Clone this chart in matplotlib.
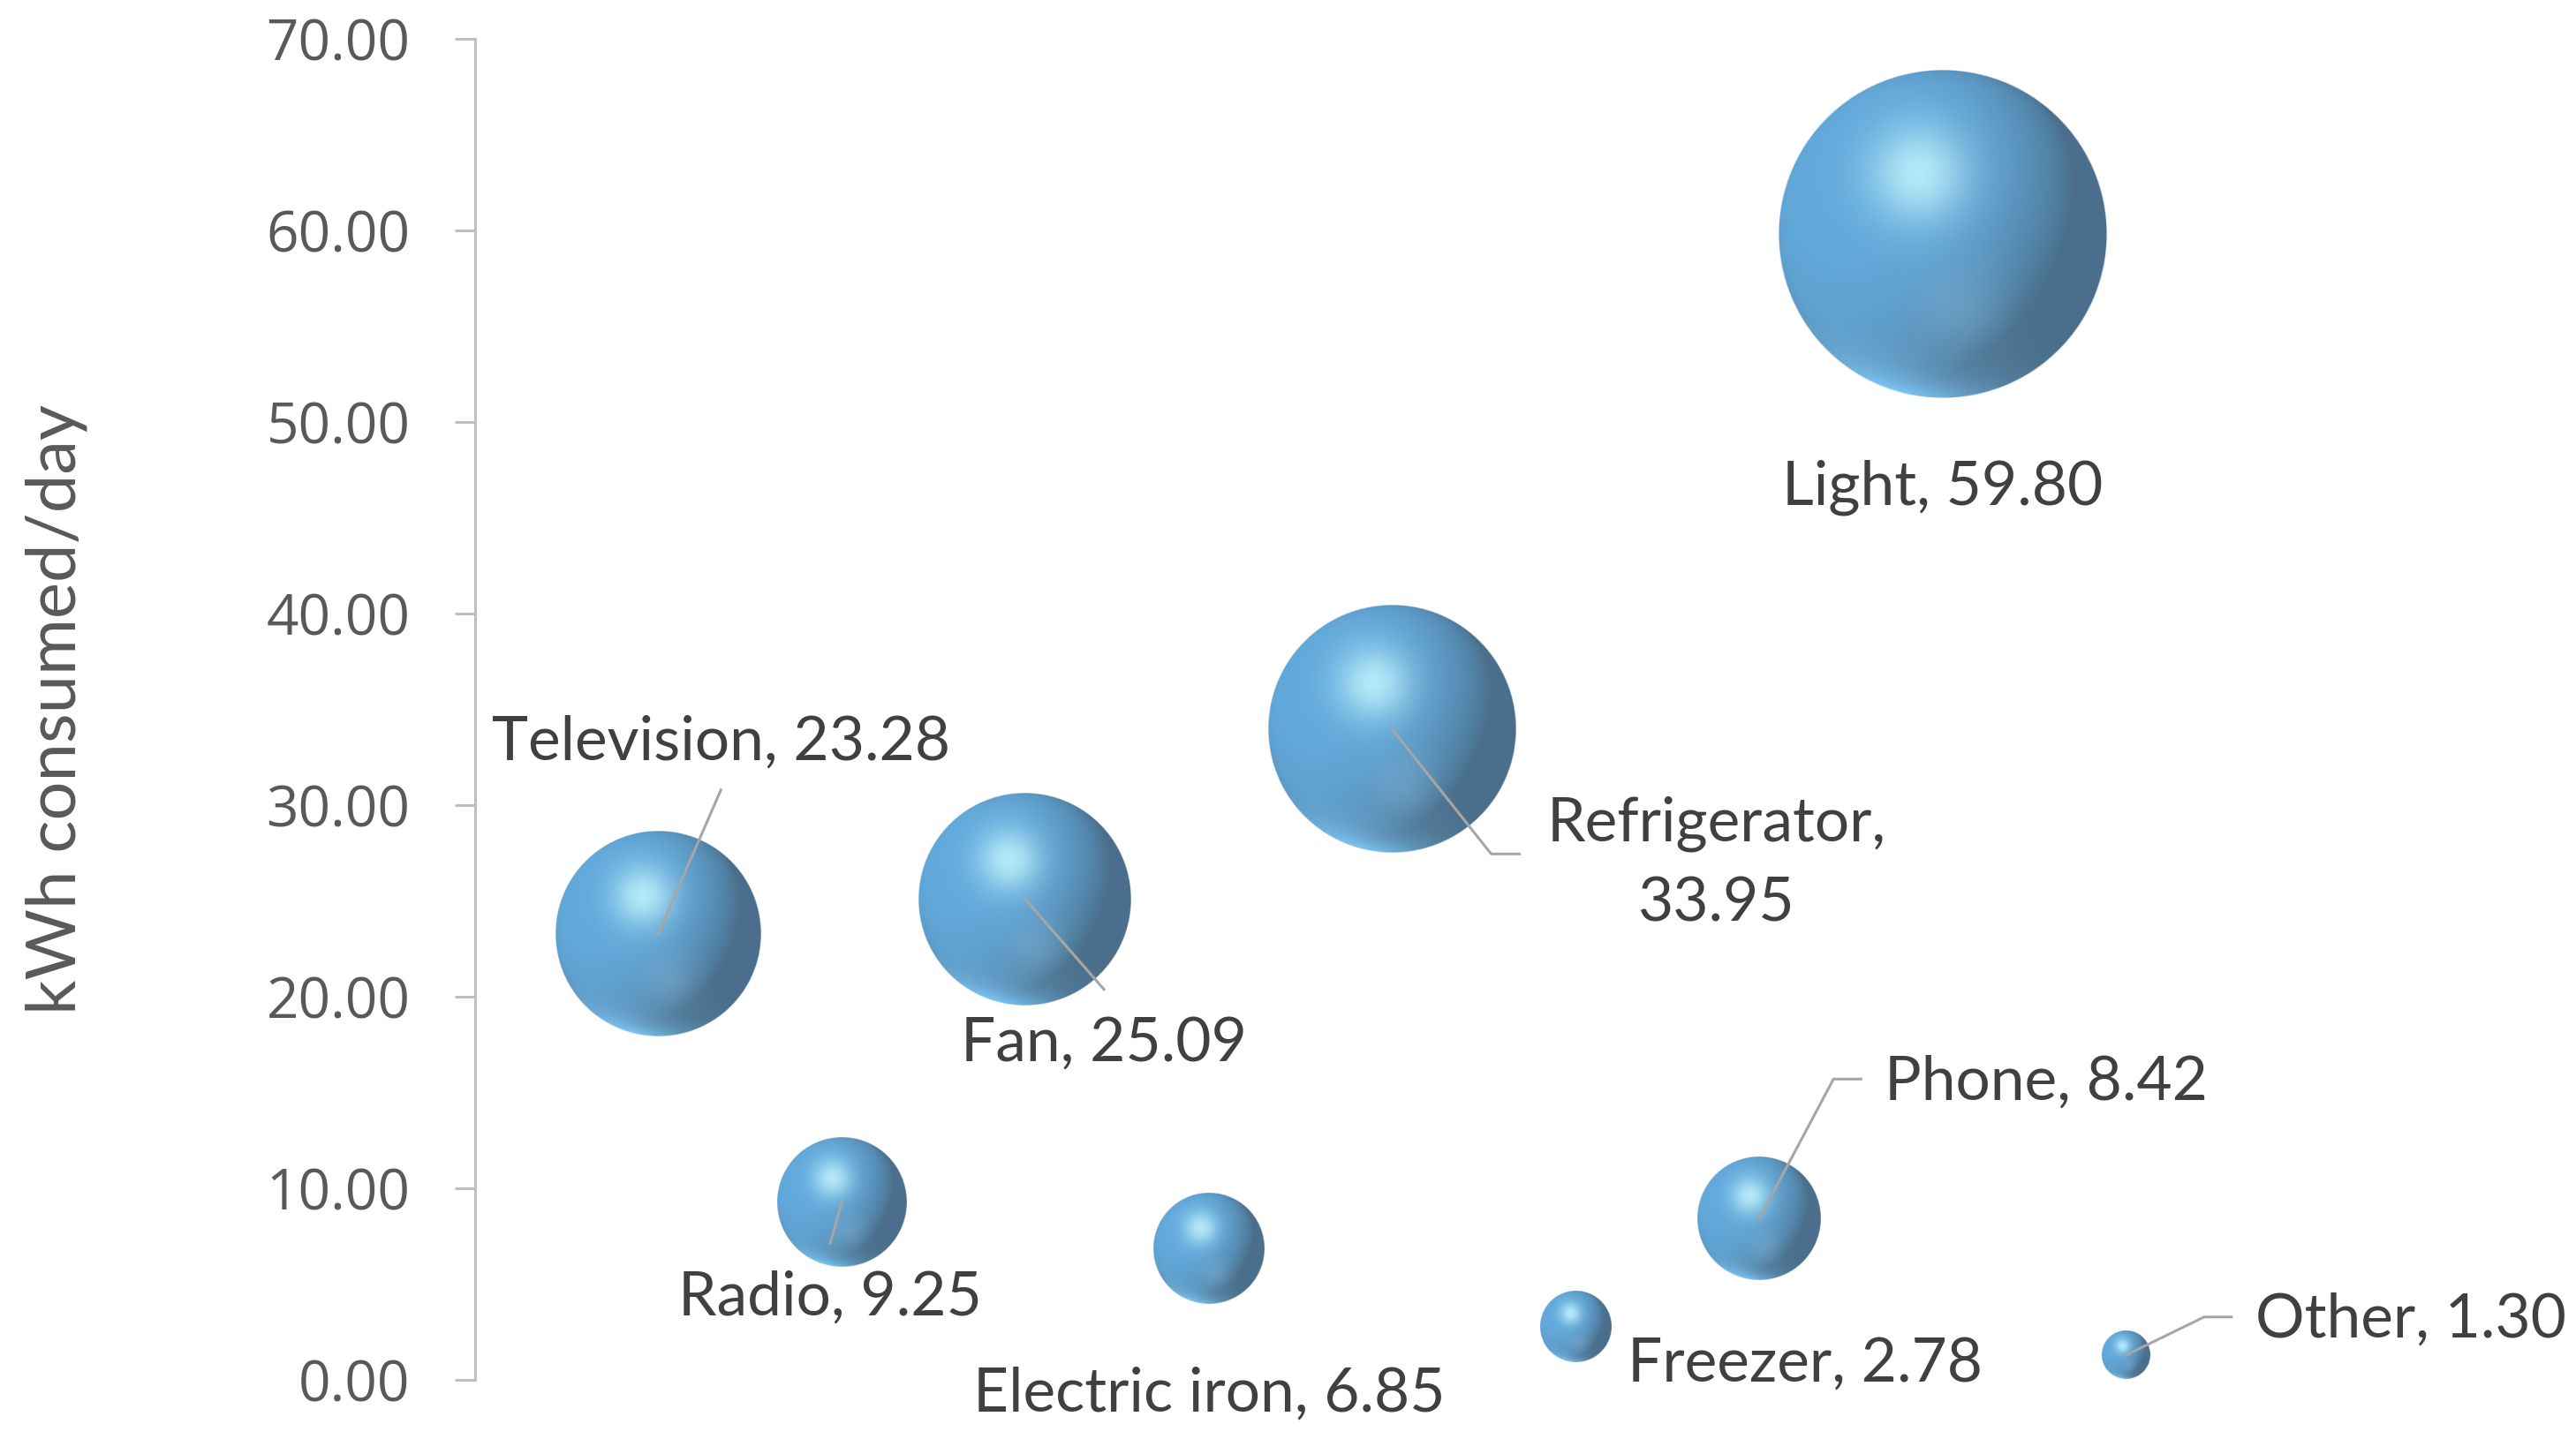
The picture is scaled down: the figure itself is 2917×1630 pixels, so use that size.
import numpy as np
import matplotlib
matplotlib.use('Agg')
import matplotlib.pyplot as plt
from matplotlib.lines import Line2D
from matplotlib.transforms import IdentityTransform

# data
appliances = ['Television', 'Radio', 'Fan', 'Electric iron', 'Refrigerator',
              'Freezer', 'Phone', 'Light', 'Other']
x_pos      = [1, 2, 3, 4, 5, 6, 7, 8, 9]
kwh_day    = [23.28, 9.25, 25.09, 6.85, 33.95, 2.78, 8.42, 59.80, 1.30]
bubble_val = [23.28, 9.25, 25.09, 6.85, 33.95, 2.78, 8.42, 59.80, 1.30]
y_ticks    = [0, 10, 20, 30, 40, 50, 60, 70]
y_label    = 'kWh consumed/day'

# label layout (pixel offsets from bubble centre, y up)
label_off  = [(71, 217), (-13, -108), (89, -163), (0, -165), (367, -152),
              (59, -42), (142, 154), (0, -287), (146, 40)]
label_ha   = ['center', 'center', 'center', 'center', 'center',
              'left', 'left', 'center', 'left']
label_wrap = [False, False, False, False, True, False, False, False, False]
leaders    = [[(0, 0), (71, 163)], [(0, 0), (-13, -46)], [(0, 0), (89, -102)], None,
              [(0, 0), (112, -141), (144, -141)], None,
              [(0, 0), (84, 158), (115, 158)], None,
              [(0, 0), (88, 43), (119, 43)]]

W, H, DPI = 2917, 1630, 100
AX_L, AX_B, AX_W, AX_H = 537.5, 67, 2286, 1519
XMAX, YMAX = 11, 70
R_MAX = 186  # radius in px of the biggest bubble


def sphere_rgba(n=400):
    t = np.linspace(-1, 1, n)
    u, v = np.meshgrid(t, -t)
    r = np.sqrt(u**2 + v**2)
    z = np.sqrt(np.clip(1 - r**2, 0, 1))
    base = np.array([98, 170, 220]) / 255
    slate = np.array([72, 104, 130]) / 255
    L = np.array([-0.6, 0.4, 0.7]); L /= np.linalg.norm(L)
    diff = np.clip(u*L[0] + v*L[1] + z*L[2], 0, 1)
    dark = (1 - diff)**1.7
    rgb = base + (slate - base) * (0.9*dark)[..., None]
    # bottom rim reflection
    L2 = np.array([-0.3, -0.95, 0.05]); L2 /= np.linalg.norm(L2)
    fill = np.clip(u*L2[0] + v*L2[1] + z*L2[2], 0, 1)**6
    rim_col = np.array([125, 200, 248]) / 255
    rgb = rgb + (rim_col - rgb) * (0.95*fill)[..., None]
    # soft glow low in the sphere
    glow = np.exp(-((u - 0.1)**2 + (v + 0.45)**2) / 0.07)
    rgb = rgb + (np.array([135, 180, 212]) / 255 - rgb) * (0.35*glow)[..., None]
    # specular highlight
    spec = np.exp(-((u + 0.15)**2 + (v - 0.37)**2) / 0.09)
    rgb = rgb + (np.array([200, 248, 255]) / 255 - rgb) * (0.8*spec)[..., None]
    alpha = np.clip((1 - r) * n / 2 + 0.5, 0, 1)
    return np.dstack([np.clip(rgb, 0, 1), alpha])


plt.rcParams['font.family'] = ['Lato', 'DejaVu Sans']

fig = plt.figure(figsize=(W/DPI, H/DPI), dpi=DPI)
ax = fig.add_axes([AX_L/W, AX_B/H, AX_W/W, AX_H/H])
ax.set_xlim(0, XMAX)
ax.set_ylim(0, YMAX)

px_x = AX_W / XMAX
px_y = AX_H / YMAX
sphere = sphere_rgba()
vmax = max(bubble_val)

for x, y, s in zip(x_pos, kwh_day, bubble_val):
    r = R_MAX * np.sqrt(s / vmax)
    ax.imshow(sphere, extent=(x - r/px_x, x + r/px_x, y - r/px_y, y + r/px_y),
              aspect='auto', interpolation='bilinear', zorder=2)
ax.set_xlim(0, XMAX)
ax.set_ylim(0, YMAX)

# data labels
for name, x, y, off, ha, wrap in zip(appliances, x_pos, kwh_day, label_off, label_ha, label_wrap):
    sep = ',\n' if wrap else ', '
    ax.annotate(f'{name}{sep}{y:.2f}', xy=(x, y), xytext=off, textcoords='offset pixels',
                ha=ha, va='center', fontsize=50, color='#404040',
                linespacing=1.55, multialignment='center', zorder=4, annotation_clip=False)

# leader lines
for x, y, pts in zip(x_pos, kwh_day, leaders):
    if pts is None:
        continue
    cx, cy = ax.transData.transform((x, y))
    xs = [cx + p[0] for p in pts]
    ys = [cy + p[1] for p in pts]
    fig.add_artist(Line2D(xs, ys, transform=IdentityTransform(),
                          color='#A6A6A6', lw=2.2, zorder=5))

for side in ['top', 'right', 'bottom']:
    ax.spines[side].set_visible(False)
ax.spines['left'].set_color('#BFBFBF')
ax.spines['left'].set_linewidth(2.2)
ax.set_xticks([])
ax.set_yticks(y_ticks)
ax.set_yticklabels([f'{t:.2f}' for t in y_ticks], family='Open Sans', fontsize=46, color='#595959')
ax.tick_params(axis='y', length=16.5, width=2.2, color='#BFBFBF', pad=36)
ax.set_ylabel(y_label, fontsize=56, color='#595959')
ax.yaxis.set_label_coords(-(AX_L - 100) / AX_W, 0.50)
ax.patch.set_visible(False)

fig.savefig('out.png', dpi=DPI)
